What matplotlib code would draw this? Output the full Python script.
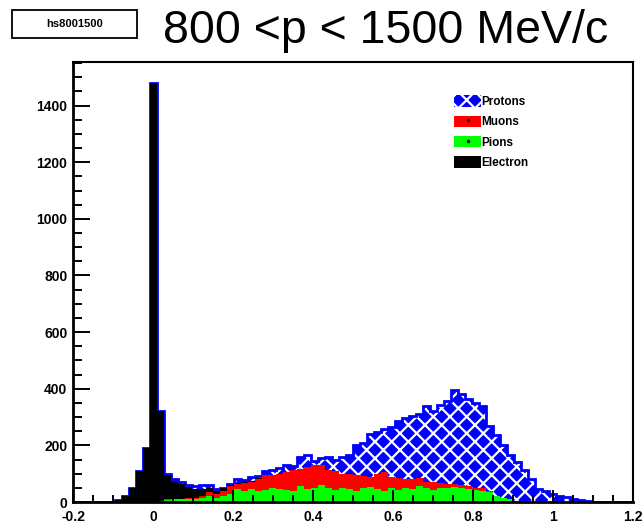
import matplotlib
matplotlib.use("Agg")
import matplotlib.pyplot as plt
import numpy as np
from matplotlib.patches import Patch, Rectangle
from matplotlib.lines import Line2D
from matplotlib.ticker import MultipleLocator, FuncFormatter

plt.rcParams['font.family'] = ['Liberation Sans', 'DejaVu Sans']
plt.rcParams['hatch.linewidth'] = 1.6

# 80 bins from -0.2 to 1.2
edges = np.linspace(-0.2, 1.2, 81)

electrons = ([0] * 6
             + [8, 22, 50, 110, 190, 1480, 316]
             + [85, 60, 50, 38, 30, 25, 15, 10, 8, 6, 5, 4, 3, 3, 2, 2]
             + [0] * 51)

pions = ([0] * 13
         + [8, 10, 10, 12, 12, 14, 20, 15, 22, 30]
         + [45, 40, 45, 40, 42, 48, 45, 42, 38, 55]
         + [45, 50, 60, 48, 42, 50, 45, 38, 48, 52]
         + [45, 40, 50, 42, 50, 45, 55, 50, 42, 50]
         + [48, 52, 50, 45, 42, 40, 35, 20, 14, 10]
         + [5, 3, 2]
         + [0] * 14)

muons = ([0] * 12
         + [4]
         + [2, 2, 2, 3, 3, 6, 15, 15, 18, 25]
         + [17, 28, 27, 40, 53, 47, 55, 63, 74, 63]
         + [77, 80, 70, 64, 68, 50, 53, 57, 44, 36]
         + [53, 65, 40, 43, 30, 37, 29, 22, 28, 18]
         + [17, 10, 10, 13, 8, 8, 3, 2, 1, 0]
         + [0] * 17)

protons = ([0] * 13
           + [5, 8, 8, 7, 10, 15, 10, 5, 2, 4]
           + [13, 6, 13, 9, 11, 15, 20, 25, 16, 42]
           + [43, 15, 25, 48, 40, 60, 67, 105, 118, 152]
           + [150, 153, 175, 200, 215, 223, 226, 268, 253, 273]
           + [290, 333, 320, 307, 301, 292, 232, 213, 185, 155]
           + [135, 109, 78, 45, 40, 28, 20, 18, 12, 7, 5]
           + [0] * 6)

pions = np.array(pions)
muons = np.array(muons)
electrons = np.array(electrons)
protons = np.array(protons)

# stack order bottom -> top: pions, muons, electrons, protons
s_pi = pions
s_mu = s_pi + muons
s_el = s_mu + electrons
s_pr = s_el + protons

fig = plt.figure(figsize=(6.43, 5.27), dpi=100)
ax = fig.add_axes([73 / 643, 1 - 502 / 527, 560 / 643, 440 / 527])

# ROOT style: draw the cumulative sums from 0, biggest first
ax.stairs(s_pr, edges, fill=True, facecolor='#0000ff', edgecolor='white',
          hatch='xx', linewidth=0)
ax.stairs(s_pr, edges, color='#0000ff', linewidth=2)
ax.stairs(s_el, edges, fill=True, color='black', linewidth=0)
ax.stairs(s_mu, edges, fill=True, color='#ff0000', linewidth=0)
ax.stairs(s_pi, edges, fill=True, color='#00ff00', linewidth=0)

ax.set_xlim(-0.2, 1.2)
ax.set_ylim(0, 1554)

ax.xaxis.set_major_locator(MultipleLocator(0.2))
ax.xaxis.set_minor_locator(MultipleLocator(0.05))
ax.yaxis.set_major_locator(MultipleLocator(200))
ax.yaxis.set_minor_locator(MultipleLocator(50))
ax.xaxis.set_major_formatter(FuncFormatter(lambda v, p: "%g" % round(v, 2)))

ax.tick_params(axis='x', which='major', direction='in', length=8.6, width=1.4,
               labelsize=10, pad=5.5, top=False)
ax.tick_params(axis='x', which='minor', direction='in', length=5, width=1.4,
               top=False)
ax.tick_params(axis='y', which='major', direction='in', length=12, width=1.4,
               labelsize=10, pad=4, right=False)
ax.tick_params(axis='y', which='minor', direction='in', length=6.5, width=1.4,
               right=False)
for lab in ax.get_xticklabels() + ax.get_yticklabels():
    lab.set_fontweight('bold')

ax.spines['left'].set_linewidth(2)
ax.spines['bottom'].set_linewidth(2)
ax.spines['top'].set_linewidth(1.5)
ax.spines['right'].set_linewidth(1.5)

# legend
h_pr = Patch(facecolor='#0000ff', edgecolor='white', hatch='xx', linewidth=0)
dot = Line2D([], [], marker='.', color='black', markersize=3, linestyle='none')
h_mu = (Patch(facecolor='#ff0000', linewidth=0), dot)
h_pi = (Patch(facecolor='#00ff00', linewidth=0), dot)
h_el = Patch(facecolor='black', linewidth=0)
fig.legend([h_pr, h_mu, h_pi, h_el], ["Protons", "Muons", "Pions", "Electron"],
           loc='upper left', bbox_to_anchor=(446 / 643, 1 - 87 / 527),
           frameon=False, prop={'size': 8.5, 'weight': 'bold'},
           handlelength=2.3, handleheight=1.1, handletextpad=0.0,
           labelspacing=0.65, borderpad=0.2)

# title box and title
fig.patches.append(Rectangle((12 / 643, 1 - 38 / 527), 125 / 643, 28 / 527,
                             transform=fig.transFigure, facecolor='white',
                             edgecolor='black', linewidth=1.3))
fig.text(74.5 / 643, 1 - 24 / 527, "hs8001500", ha='center', va='center',
         fontsize=8, fontweight='bold')
fig.text(386 / 643, 1 - 43 / 527, "800 <p < 1500 MeV/c", ha='center',
         va='baseline', fontsize=33.5)

fig.savefig("out.png", dpi=100)
